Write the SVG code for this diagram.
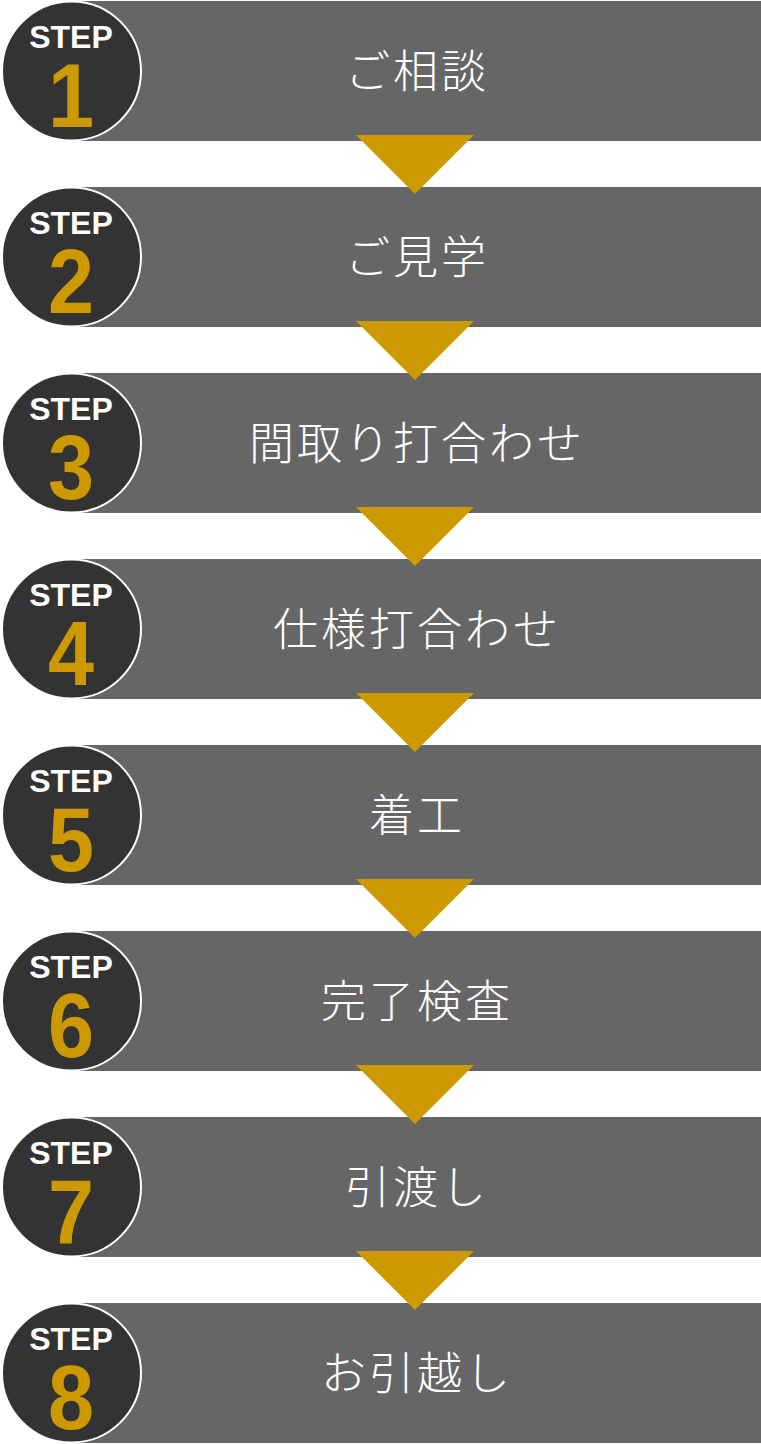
<svg xmlns="http://www.w3.org/2000/svg" width="761" height="1444" viewBox="0 0 761 1444">
<style>
.bar{fill:#666666}
.circ{fill:#333333;stroke:#ffffff;stroke-width:2}
.step{font-family:"Liberation Sans",Arial,sans-serif;font-weight:bold;font-size:32px;fill:#ffffff;text-anchor:middle}
.num{font-family:"Liberation Sans",Arial,sans-serif;font-weight:bold;font-size:90px;fill:#cc9900;text-anchor:middle}
.lbl{font-family:"Noto Sans CJK JP","Noto Sans",sans-serif;font-weight:300;font-size:45px;fill:#ffffff;text-anchor:middle;letter-spacing:3px}
.arr{fill:#cc9900}
</style>
<rect width="761" height="1444" fill="#ffffff"/>
<g id="step1"><rect class="bar" x="70" y="1" width="691" height="140"/><circle class="circ" cx="71.5" cy="71" r="69.5"/><text class="step" x="71" y="48">STEP</text><text class="num" transform="translate(71 127) scale(0.92 1)">1</text><text class="lbl" x="417" y="88">ご相談</text></g>
<g id="step2"><rect class="bar" x="70" y="187" width="691" height="140"/><circle class="circ" cx="71.5" cy="257" r="69.5"/><text class="step" x="71" y="234">STEP</text><text class="num" transform="translate(71 313) scale(0.92 1)">2</text><text class="lbl" x="417" y="274">ご見学</text></g>
<g id="step3"><rect class="bar" x="70" y="373" width="691" height="140"/><circle class="circ" cx="71.5" cy="443" r="69.5"/><text class="step" x="71" y="420">STEP</text><text class="num" transform="translate(71 499) scale(0.92 1)">3</text><text class="lbl" x="417" y="460">間取り打合わせ</text></g>
<g id="step4"><rect class="bar" x="70" y="559" width="691" height="140"/><circle class="circ" cx="71.5" cy="629" r="69.5"/><text class="step" x="71" y="606">STEP</text><text class="num" transform="translate(71 685) scale(0.92 1)">4</text><text class="lbl" x="417" y="646">仕様打合わせ</text></g>
<g id="step5"><rect class="bar" x="70" y="745" width="691" height="140"/><circle class="circ" cx="71.5" cy="815" r="69.5"/><text class="step" x="71" y="792">STEP</text><text class="num" transform="translate(71 871) scale(0.92 1)">5</text><text class="lbl" x="417" y="832">着工</text></g>
<g id="step6"><rect class="bar" x="70" y="931" width="691" height="140"/><circle class="circ" cx="71.5" cy="1001" r="69.5"/><text class="step" x="71" y="978">STEP</text><text class="num" transform="translate(71 1057) scale(0.92 1)">6</text><text class="lbl" x="417" y="1018">完了検査</text></g>
<g id="step7"><rect class="bar" x="70" y="1117" width="691" height="140"/><circle class="circ" cx="71.5" cy="1187" r="69.5"/><text class="step" x="71" y="1164">STEP</text><text class="num" transform="translate(71 1243) scale(0.92 1)">7</text><text class="lbl" x="417" y="1204">引渡し</text></g>
<g id="step8"><rect class="bar" x="70" y="1303" width="691" height="140"/><circle class="circ" cx="71.5" cy="1373" r="69.5"/><text class="step" x="71" y="1350">STEP</text><text class="num" transform="translate(71 1429) scale(0.92 1)">8</text><text class="lbl" x="417" y="1390">お引越し</text></g>
<g id="connectors">
<polygon class="arr" points="356,135 474,135 415,194"/>
<polygon class="arr" points="356,321 474,321 415,380"/>
<polygon class="arr" points="356,507 474,507 415,566"/>
<polygon class="arr" points="356,693 474,693 415,752"/>
<polygon class="arr" points="356,879 474,879 415,938"/>
<polygon class="arr" points="356,1065 474,1065 415,1124"/>
<polygon class="arr" points="356,1251 474,1251 415,1310"/>
</g>
</svg>
